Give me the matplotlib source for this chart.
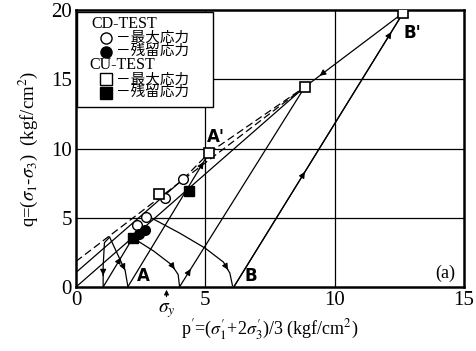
import matplotlib
matplotlib.use("Agg")
import matplotlib.pyplot as plt
from matplotlib.patches import Rectangle

plt.rcParams['font.family'] = ['Liberation Serif', 'DejaVu Serif']
plt.rcParams['mathtext.fontset'] = 'stix'

# peak / residual points, p' and q in kgf/cm2
cd_max_p = [4.15, 3.45, 2.7, 2.35]
cd_max_q = [7.8, 6.45, 5.05, 4.5]
cd_res_p = [2.65, 2.45]
cd_res_q = [4.15, 3.85]
cu_max_p = [3.2, 5.15, 8.85, 12.65]
cu_max_q = [6.75, 9.7, 14.45, 19.8]
cu_res_p = [2.2, 4.35]
cu_res_q = [3.55, 6.9]

# envelopes
env_solid_p = [[0, 8.85], [0, 4.15]]
env_solid_q = [[0, 14.45], [1.05, 7.8]]
env_dash_p = [[0, 8.85], [5.15, 8.85], [4.15, 5.15]]
env_dash_q = [[1.85, 14.45], [9.7, 14.45], [7.8, 9.7]]

# stress paths (p', q) with arrow position (fraction along the path)
paths = [
    ([2.0, 5.15], [0.0, 9.7], 0.93),            # A -> A'
    ([6.1, 12.65], [0.0, 19.8], 0.42),          # B -> B'
    ([6.1, 12.65], [0.0, 19.8], 0.93),
    ([4.0, 8.85], [0.0, 14.45], 0.09),
    ([12.65, 8.85], [19.8, 14.45], 0.85),       # B' -> peak
    ([1.05, 2.2], [0.0, 3.55], 0.6),
    ([2.2, 3.0, 3.7, 3.95, 4.0], [3.55, 2.6, 1.6, 0.9, 0.1], 0.75),
    ([2.9, 4.0, 5.0, 5.7, 5.95, 6.05], [5.0, 3.9, 2.8, 1.8, 1.0, 0.1], 0.85),
    ([1.3, 1.1, 1.05, 1.05], [3.6, 3.2, 1.5, 0.1], 0.8),
    ([1.3, 1.9, 2.0], [3.6, 1.2, 0.1], 0.7),
]

fig = plt.figure(figsize=(4.77, 3.51), dpi=100)
ax = fig.add_axes([0.1593, 0.1823, 0.8134, 0.7892])
ax.set_xlim(0, 15)
ax.set_ylim(0, 20)

for v in [5, 10]:
    ax.axvline(v, color='k', lw=0.9, zorder=1)
for v in [5, 10, 15]:
    ax.axhline(v, color='k', lw=0.9, zorder=1)

for p, q in zip(env_solid_p, env_solid_q):
    ax.plot(p, q, color='k', lw=0.9, zorder=2)
for p, q in zip(env_dash_p, env_dash_q):
    ax.plot(p, q, color='k', lw=0.9, ls=(0, (6, 3)), zorder=2)


def arrow_at(px, py, frac):
    # arrow head placed on the polyline at a fraction of its length
    import numpy as np
    px = np.asarray(px, float)
    py = np.asarray(py, float)
    sx = px * 25.8
    sy = py * 13.85
    seg = np.hypot(np.diff(sx), np.diff(sy))
    cum = np.concatenate([[0], np.cumsum(seg)])
    d = frac * cum[-1]
    i = min(np.searchsorted(cum, d) - 1, len(seg) - 1)
    i = max(i, 0)
    t = (d - cum[i]) / seg[i]
    x1 = px[i] + t * (px[i + 1] - px[i])
    y1 = py[i] + t * (py[i + 1] - py[i])
    x0 = x1 - 0.02 * (px[i + 1] - px[i])
    y0 = y1 - 0.02 * (py[i + 1] - py[i])
    ax.annotate('', xy=(x1, y1), xytext=(x0, y0),
                arrowprops=dict(arrowstyle='-|>', color='k', lw=0.8,
                                mutation_scale=9, shrinkA=0, shrinkB=0),
                zorder=3)


for p, q, f in paths:
    ax.plot(p, q, color='k', lw=0.9, zorder=2)
    arrow_at(p, q, f)

ms = 7
ax.plot(cd_max_p, cd_max_q, 'o', ms=ms, mfc='white', mec='k', mew=1.0, zorder=4)
ax.plot(cd_res_p, cd_res_q, 'o', ms=ms, mfc='k', mec='k', zorder=4)
ax.plot(cu_max_p, cu_max_q, 's', ms=ms, mfc='white', mec='k', mew=1.2, zorder=4)
ax.plot(cu_res_p, cu_res_q, 's', ms=ms, mfc='k', mec='k', zorder=4)

lab = dict(fontsize=12, fontweight='bold', family='DejaVu Sans', zorder=5)
ax.text(2.6, 0.15, 'A', ha='center', va='bottom', **lab)
ax.text(6.75, 0.15, 'B', ha='center', va='bottom', **lab)
ax.text(5.4, 10.2, "A'", ha='center', va='bottom', **lab)
ax.text(13.0, 19.0, "B'", ha='center', va='top', **lab)
ax.text(14.65, 0.35, '(a)', ha='right', va='bottom', fontsize=13, zorder=5)

# legend box
ax.add_patch(Rectangle((0.04, 12.97), 5.26, 6.88, facecolor='white',
                       edgecolor='k', lw=1.0, zorder=6))
jp = ['Noto Sans CJK JP', 'DejaVu Sans']
ax.text(0.6, 19.0, 'CD-TEST', fontsize=11.5, va='center', zorder=7)
ax.text(0.5, 16.0, 'CU-TEST', fontsize=11.5, va='center', zorder=7)
rows = [(18.0, 'o', 'white', '－最大応力'), (17.0, 'o', 'k', '－残留応力'),
        (15.0, 's', 'white', '－最大応力'), (14.0, 's', 'k', '－残留応力')]
for y, m, fc, txt in rows:
    ax.plot([1.15], [y], m, ms=8, mfc=fc, mec='k', mew=1.0, zorder=7)
    ax.text(1.55, y, txt, fontsize=10.5, va='center', family=jp, zorder=7)

ax.set_xticks([0, 5, 10, 15])
ax.set_yticks([0, 5, 10, 15, 20])
ax.tick_params(direction='in', length=0, labelsize=15, pad=3)
for s in ax.spines.values():
    s.set_linewidth(1.8)

# yield stress marker below the axis
ax.annotate('', xy=(3.5, 0), xytext=(3.5, -0.9), annotation_clip=False,
            arrowprops=dict(arrowstyle='-|>', color='k', lw=0.8, mutation_scale=7))
ax.text(3.5, -1.05, r'$\sigma_y$', ha='center', va='top', fontsize=14)

ax.set_xlabel(r"p$'$=($\sigma_1'$+2$\sigma_3'$)/3 (kgf/cm$^2$)", fontsize=13, labelpad=5)
ax.set_ylabel(r"q=($\sigma_1$-$\sigma_3$)  (kgf/cm$^2$)", fontsize=13.5, labelpad=8)

fig.savefig('out.png', dpi=100)
